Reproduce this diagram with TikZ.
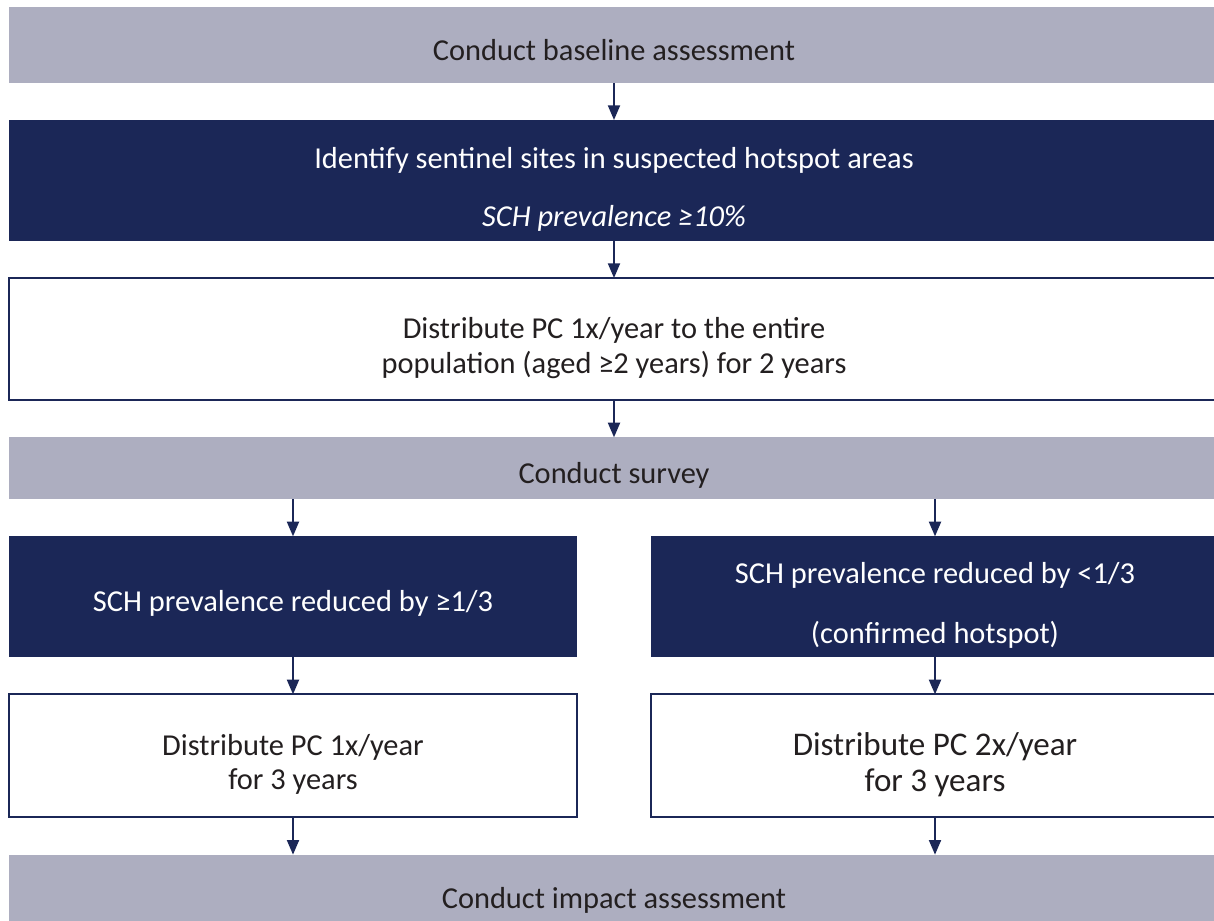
\documentclass[tikz,border=0pt]{standalone}
\usepackage{fontspec}
\setmainfont{Carlito}
\usetikzlibrary{positioning,arrows.meta}
\definecolor{navy}{HTML}{1B2757}
\definecolor{greyblue}{HTML}{ADAEC0}
\definecolor{ink}{HTML}{231F20}
\newcommand{\pad}[1][25pt]{\rule{0pt}{#1}}

\begin{document}
\begin{tikzpicture}[>={Triangle[width=9pt,length=11pt]},node distance=27.75pt,
    base/.style={inner sep=0pt, outer sep=0pt, align=center, font=\fontsize{22.8}{26}\selectfont},
    greybox/.style={base, fill=greyblue, text=ink},
    darkbox/.style={base, fill=navy, text=white, minimum height=90.75pt},
    plainbox/.style={base, draw=navy, line width=1.5pt, fill=white, text=ink, minimum height=91.75pt},
    wide/.style={minimum width=907.5pt},
    half/.style={minimum width=426pt},
    link/.style={->, draw=navy, line width=1.5pt}]
    \useasboundingbox (0,0) rectangle (910.5pt,-690.75pt);
    \clip (0,0) rectangle (910.5pt,-690.75pt);

    \node[greybox, wide, minimum height=57pt] (baseline) at (460.5pt,-33.75pt) {\pad[23pt]Conduct baseline assessment};
    \node[darkbox, wide]  (sites)  [below=of baseline] {\pad[29pt]Identify sentinel sites in suspected hotspot areas\\[18pt]\textit{SCH prevalence ≥10\%}};
    \node[plainbox, wide] (mda)    [below=of sites] {\pad[29pt]Distribute PC 1x/year to the entire\\population (aged ≥2 years) for 2 years};
    \node[greybox, wide, minimum height=46.5pt] (survey) [below=of mda] {\pad[27pt]Conduct survey};
    \node[darkbox, half]  (good)   [below right=27.75pt and 0pt of survey.south west] {\pad SCH prevalence reduced by ≥1/3};
    \node[darkbox, half]  (hot)    [below left=27.75pt and 0pt of survey.south east] {\pad[29pt]SCH prevalence reduced by <1/3\\[19pt](confirmed hotspot)};
    \node[plainbox, half] (once)   [below=of good] {\pad[29pt]Distribute PC 1x/year\\for 3 years};
    \node[plainbox, half, font=\fontsize{24.8}{27}\selectfont] (twice) [below=of hot] {\pad[31pt]Distribute PC 2x/year\\for 3 years};
    \node[greybox, wide, minimum height=63pt] (impact) [below right=28.5pt and 0pt of once.south west] {\pad[22pt]Conduct impact assessment};

    \draw[link] (baseline) -- (sites);
    \draw[link] (sites) -- (mda);
    \draw[link] (mda) -- (survey);
    \draw[link] (good |- survey.south) -- (good);
    \draw[link] (hot |- survey.south) -- (hot);
    \draw[link] (good) -- (once);
    \draw[link] (hot) -- (twice);
    \draw[link] (once) -- (once |- impact.north);
    \draw[link] (twice) -- (twice |- impact.north);
\end{tikzpicture}
\end{document}
